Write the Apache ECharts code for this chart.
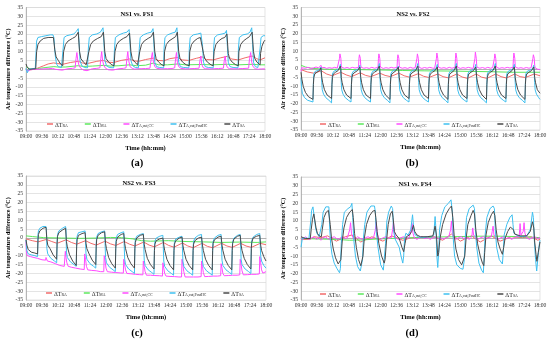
<!DOCTYPE html>
<html><head><meta charset="utf-8">
<script src="https://cdn.jsdelivr.net/npm/echarts@6/dist/echarts.min.js"></script>
<style>html,body{margin:0;padding:0;background:#fff}#c{width:550px;height:343px}</style>
</head><body><div id="c"></div>
<script>
// ---------- data (time in minutes after 09:00, value in °C) ----------
const timeStart = '09:00';
const timeTickStep = 36;
const yTicks = [-35, 35, 5];
const seriesKeys = ['RA', 'MA', 'A,out,CC', 'A,out,PostHC', 'SA'];
const seriesColors = ['#F26B6B', '#5DE85D', '#FF4AFF', '#3EC0F0', '#4A4A4A'];
const panelTitles = ['NS1 vs. FS1', 'NS2 vs. FS2', 'NS2 vs. FS3', 'NS1 vs. FS4'];
const panelLetters = ['(a)', '(b)', '(c)', '(d)'];

// ---- panel (a) NS1 vs. FS1 ----
const a_RA = [[0,-0.5],[10,-0.3],[20,0],[30,1],[40,2],[50,3],[62,3.6],[72,3.2],[83,2.8],[100,3.8],[118,4.5],[128,3.5],[140,3.3],[160,4.5],[175,5],[185,4],[198,3.8],[215,5],[234,5.8],[244,4.7],[255,4.5],[270,5.5],[288,6.3],[298,5],[311,4.8],[325,6],[343,6.7],[353,5.3],[368,5],[385,6.2],[398,7],[408,5.5],[423,5.3],[440,6.5],[455,7.3],[465,5.8],[480,5.3],[495,6.5],[511,7.5],[521,6],[529,5.3],[540,6.5]];
const a_MA = [[0,1.5],[4,0.5],[10,0],[20,0],[30,0.5],[45,1],[63,1.5],[75,1.2],[90,1.3],[118,2],[130,1.6],[150,1.8],[175,2.2],[190,1.8],[210,2],[234,2.5],[250,2],[270,2.3],[288,3.5],[300,2.5],[320,2.5],[343,3],[360,2.5],[398,2.7],[420,2.5],[455,2.8],[480,2.5],[511,2.8],[530,2.5],[540,2.5]];
const a_CC = [[0,-0.5],[5,-1],[10,-0.3],[20,0],[30,0],[40,0.2],[50,0.3],[60,0.5],[66,0],[70,-0.8],[74,-0.3],[78,-1],[82,-0.5],[86,0],[95,0.3],[105,0.5],[111,0.8],[113,6],[115,9.5],[117,5],[120,2],[124,0.5],[130,-0.5],[134,0],[138,-0.8],[142,0],[150,0.3],[160,0.5],[167,0.8],[169,6],[171,10],[173,5],[176,2],[180,0.5],[186,-0.3],[190,0.2],[196,-0.5],[200,0.2],[210,0.3],[220,0.5],[226,0.8],[228,6],[230,10],[232,5],[235,1.5],[240,0.5],[246,0],[252,0.3],[260,0.3],[270,0.4],[280,0.6],[283,6],[285.5,9.5],[288,4],[291,1.5],[296,0.5],[305,0.2],[312,0.3],[320,0.3],[330,0.4],[336,0.8],[338,6],[340,9.5],[342,4],[345,1.5],[350,0.5],[360,0.2],[370,0.3],[380,0.4],[391,0.6],[393,5],[395,7.5],[397,3],[400,1],[405,0.3],[415,0.2],[425,0.3],[435,0.4],[446,0.6],[448,5],[450,7.5],[452,3],[455,1],[460,0.3],[470,0.2],[480,0.3],[490,0.4],[503,0.6],[505,6],[507.6,9.5],[510,4],[513,1.5],[518,0.3],[525,0],[532,0.2],[540,0.2]];
const a_PostHC = [[0,0.5],[3,-2],[6,0],[12,0.3],[21,0.5],[24,16],[27,18],[35,18.5],[45,19],[55,19.5],[61,19.5],[63,18],[66,8],[69,3],[73,1.5],[80,1],[83,1],[84,12],[86,18],[92,19],[100,19.5],[108,20],[114,21.5],[118,23],[120,15],[122,5],[126,2],[132,1],[139,0.8],[141,12],[143,18],[150,19.5],[160,20],[168,21],[174,23.5],[176,15],[178,5],[182,2],[188,1],[198,0.8],[200,12],[202,18],[210,19.5],[220,20.5],[228,21],[233,22.5],[235,14],[237,5],[241,2],[247,1],[254,0.8],[256,12],[258,18],[265,19.5],[275,20.5],[283,21],[287,23],[289,14],[291,4],[295,1.5],[302,1],[311,0.8],[312,12],[314,18],[320,19.5],[330,20.5],[337,21],[341,23.5],[343,14],[345,4],[349,1.5],[356,1],[368,0.8],[369,12],[371,18],[378,19.5],[388,20],[395,20.5],[397,21.5],[399,13],[401,4],[405,1.5],[412,1],[423,0.8],[424,12],[426,18],[433,19.5],[443,20],[450,20.5],[453,22],[455,13],[457,4],[461,1.5],[468,1],[479,0.8],[480,12],[482,18],[490,19.5],[500,20],[506,21],[510,23.5],[512,14],[514,4],[518,1.5],[524,1],[528,0.8],[529,12],[531,18],[536,19],[540,19]];
const a_SA = [[0,3],[3,1],[8,0],[22,0.3],[24,10],[27,14],[32,16],[40,17.5],[50,18],[62,18],[65,11],[68,7],[73,5],[78,3],[83,2],[85,10],[89,14],[95,16],[105,17.5],[112,18.5],[118,21],[121,10],[124,6],[130,4],[136,2.5],[140,2],[142,10],[146,14],[152,16],[162,17.5],[170,18.5],[175,21],[178,10],[181,6],[187,4],[194,2.5],[199,2],[201,10],[205,14],[211,16],[220,17.5],[228,18.5],[234,20.5],[237,10],[240,6],[246,4],[252,2.5],[255,2],[257,10],[261,14],[267,16],[276,17.5],[283,18.5],[288,21],[291,10],[294,6],[300,4],[307,2.5],[312,2],[313,10],[317,14],[323,16],[332,17.5],[338,18.5],[342,21],[345,10],[348,6],[354,4],[362,2.5],[369,2],[370,10],[374,14],[380,16],[388,17.5],[394,18],[398,19],[401,9],[404,6],[410,4],[418,2.5],[423,2],[425,10],[429,14],[435,16],[443,17.5],[449,18],[454,20],[457,9],[460,6],[466,4],[474,2.5],[480,2],[481,10],[485,14],[491,16],[499,17.5],[505,18.5],[511,21],[514,10],[517,6],[522,4],[526,3],[529,2.5],[530,9],[533,13],[537,15.5],[540,16.5]];

// ---- panel (b) NS2 vs. FS2 ----
const b_RA = [[0,-0.5],[14,-1.8],[28,-2.5],[46,-1.2],[58,-3],[70,-4],[90,-2],[102,-3.5],[114,-4.5],[134,-2.3],[146,-3.8],[158,-4.5],[178,-2.5],[190,-3.8],[202,-4.5],[221,-2.5],[233,-4],[245,-4.8],[265,-2.8],[277,-4.3],[289,-5],[309,-3],[321,-4.5],[333,-5.2],[352,-3],[364,-4.7],[376,-5.5],[396,-3],[408,-4.8],[420,-5.5],[440,-3],[452,-4.5],[464,-5.3],[483,-3],[495,-4.5],[507,-5],[527,-3],[540,-4]];
const b_MA = [[0,2],[10,1],[25,0.2],[40,0],[60,-0.3],[90,-0.3],[130,-0.5],[180,-0.7],[230,-1],[280,-1.2],[330,-1.3],[380,-1.5],[430,-1.7],[480,-2],[540,-2]];
const b_CC = [[0,-1.5],[2,0.5],[6,1],[10,0.3],[16,0.8],[22,0.2],[28,0.5],[34,1],[40,0.5],[43,1],[45,2],[47,0.5],[52,0.8],[58,0.2],[64,0.6],[70,0.3],[76,0.8],[82,0.4],[86,0.8],[87,6],[88,8.5],[89,9],[90,6],[91,2],[92,0.8],[98,0.3],[104,0.7],[110,0.2],[116,0.8],[122,0.4],[126,0.2],[130,0.8],[131,6],[132,8],[133,8.5],[134,6],[135,2],[136,0.8],[142,0.3],[148,0.6],[154,0.2],[160,0.8],[166,0.3],[170,0.7],[174,0.8],[175,6],[176,8.5],[177,9],[178,6],[179,2],[180,0.8],[186,0.2],[192,0.6],[198,0.3],[204,0.8],[210,0.4],[214,0.2],[217,0.8],[218,6],[219,8],[220,8.5],[221,6],[222,2],[223,0.8],[229,0.3],[235,0.6],[241,0.2],[247,0.8],[253,0.3],[258,0.6],[261,0.8],[262,6],[263,8.5],[264,9],[265,6],[266,2],[267,0.8],[273,0.2],[279,0.7],[285,0.3],[291,0.8],[297,0.4],[302,0.2],[305,0.8],[306,6],[307,9],[308,9.5],[309,6],[310,2],[311,0.8],[317,0.3],[323,0.6],[329,0.2],[335,0.8],[341,0.3],[345,0.6],[348,0.8],[349,6],[350,9],[351,9.5],[352,6],[353,2],[354,0.8],[360,0.2],[366,0.6],[372,0.3],[378,0.8],[384,0.4],[389,0.2],[392,0.8],[393,6],[394,9.5],[395,10],[396,6],[397,2],[398,0.8],[404,0.3],[410,0.7],[416,0.2],[422,0.8],[428,0.3],[433,0.6],[436,0.8],[437,6],[438,8.5],[439,9],[440,6],[441,2],[442,0.8],[448,0.2],[454,0.6],[460,0.3],[466,0.8],[472,0.4],[476,0.2],[479,0.8],[480,6],[481,9],[482,9.5],[483,6],[484,2],[485,0.8],[491,0.3],[497,0.6],[503,0.2],[509,0.7],[515,0.3],[520,0.6],[523,0.8],[524,6],[525,8],[526,8.5],[527,6],[528,2],[529,0.5],[534,-0.2],[540,-0.5]];
const b_PostHC = [[0,-5],[1,-10],[3,-14],[8,-16.5],[15,-18],[27,-19],[28,-8],[29,-3],[32,-1.5],[38,-1],[43,-0.3],[45,1],[46,0],[47,-8],[48,-12],[51,-14.5],[56,-16.5],[63,-18],[69,-19.5],[70,-8],[71,-3],[74,-1.5],[80,-0.8],[86,0],[89,2.5],[90,1.5],[91,-8],[92,-12],[95,-14.5],[100,-16.5],[107,-18],[113,-19],[114,-8],[115,-3],[118,-1.5],[124,-0.8],[130,0],[133,2],[134,1],[135,-8],[136,-12],[139,-14.5],[144,-16.5],[151,-18],[157,-19],[158,-8],[159,-3],[162,-1.5],[168,-0.8],[174,0],[177,3],[178,2],[179,-8],[180,-12],[183,-14.5],[188,-16.5],[195,-18],[201,-19.5],[202,-8],[203,-3],[206,-1.5],[212,-0.8],[217,0],[220,1.5],[221,0.5],[222,-8],[223,-12],[226,-14.5],[231,-16.5],[238,-18],[244,-19],[245,-8],[246,-3],[249,-1.5],[255,-0.8],[261,0],[264,3],[265,2],[266,-8],[267,-12],[270,-14.5],[275,-16.5],[282,-18],[288,-19],[289,-8],[290,-3],[293,-1.5],[299,-0.8],[305,0],[308,2.5],[309,1.5],[310,-8],[311,-12],[314,-14.5],[319,-16.5],[326,-18],[332,-19.5],[333,-8],[334,-3],[337,-1.5],[343,-0.8],[348,0],[351,3],[352,2],[353,-8],[354,-12],[357,-14.5],[362,-16.5],[369,-18],[375,-19],[376,-8],[377,-3],[380,-1.5],[386,-0.8],[392,0],[395,2.5],[396,1.5],[397,-8],[398,-12],[401,-14.5],[406,-16.5],[413,-18],[419,-19.5],[420,-8],[421,-3],[424,-1.5],[430,-0.8],[436,0],[439,3],[440,2],[441,-8],[442,-12],[445,-14.5],[450,-16.5],[457,-18],[463,-19],[464,-8],[465,-3],[468,-1.5],[474,-0.8],[479,0],[482,2.5],[483,1.5],[484,-8],[485,-12],[488,-14.5],[493,-16.5],[500,-18],[506,-19.5],[507,-8],[508,-3],[511,-1.5],[517,-0.8],[523,0],[526,2],[527,1],[528,-8],[529,-12],[532,-14.5],[537,-16.5],[540,-17.5]];
const b_SA = [[0,-2],[2,-6],[5,-10],[10,-13.5],[17,-16],[27,-17.5],[28,-9],[29,-5],[31,-3],[36,-2],[42,-1],[45,0.5],[46,-0.5],[47,-5],[49,-8],[53,-12],[59,-15],[69,-17],[70,-9],[71,-5],[73,-3],[78,-2],[84,-1],[89,1.5],[90,0],[91,-5],[93,-8],[97,-12],[103,-15],[113,-17],[114,-9],[115,-5],[117,-3],[122,-2],[128,-1],[133,1],[134,0],[135,-5],[137,-8],[141,-12],[147,-15],[157,-17],[158,-9],[159,-5],[161,-3],[166,-2],[172,-1],[177,1.5],[178,0],[179,-5],[181,-8],[185,-12],[191,-15],[201,-17.5],[202,-9],[203,-5],[205,-3],[210,-2],[215,-1],[220,1],[221,0],[222,-5],[224,-8],[228,-12],[234,-15],[244,-17],[245,-9],[246,-5],[248,-3],[253,-2],[259,-1],[264,1.5],[265,0],[266,-5],[268,-8],[272,-12],[278,-15],[288,-17],[289,-9],[290,-5],[292,-3],[297,-2],[303,-1],[308,1],[309,0],[310,-5],[312,-8],[316,-12],[322,-15],[332,-17.5],[333,-9],[334,-5],[336,-3],[341,-2],[346,-1],[351,1.5],[352,0],[353,-5],[355,-8],[359,-12],[365,-15],[375,-17],[376,-9],[377,-5],[379,-3],[384,-2],[390,-1],[395,1],[396,0],[397,-5],[399,-8],[403,-12],[409,-15],[419,-17.5],[420,-9],[421,-5],[423,-3],[428,-2],[434,-1],[439,1.5],[440,0],[441,-5],[443,-8],[447,-12],[453,-15],[463,-17],[464,-9],[465,-5],[467,-3],[472,-2],[477,-1],[482,1],[483,0],[484,-5],[486,-8],[490,-12],[496,-15],[506,-17.5],[507,-9],[508,-5],[510,-3],[515,-2],[521,-1],[526,1],[527,0],[528,-5],[530,-8],[534,-12],[540,-14]];

// ---- panel (c) NS2 vs. FS3 ----
const c_RA = [[0,-0.5],[14,-1.5],[27,-2.2],[46,-0.8],[58,-2],[70,-3],[90,-1],[102,-2.5],[114,-3.5],[134,-1.5],[146,-3],[158,-4],[178,-1.8],[190,-3.3],[202,-4.2],[221,-2],[233,-3.5],[245,-4.5],[265,-2.3],[277,-4],[289,-5],[309,-2.5],[321,-4.2],[333,-5.2],[352,-2.8],[364,-4.5],[376,-5.5],[396,-3],[408,-4.7],[420,-5.5],[440,-3],[452,-4.5],[464,-5.3],[483,-3],[495,-4.5],[507,-5.3],[527,-3],[540,-3.8]];
const c_MA = [[0,1.2],[15,0.8],[40,0.2],[80,0],[120,-0.2],[160,0],[190,0.3],[215,0.2],[240,-0.5],[260,-1.5],[280,-1.8],[320,-1.5],[360,-2],[400,-2.2],[440,-2.5],[480,-2.3],[520,-2.5],[540,-2.2]];
const c_CC = [[0,-2],[1,-8],[3,-10],[10,-10.5],[18,-11],[26,-11.5],[28,-12],[36,-12.3],[44,-12.5],[45,-11],[46,-12],[48,-13],[56,-13.5],[66,-14.5],[76,-15.5],[86,-16],[88,-16.2],[88.5,-7.5],[90,-11],[92,-14],[95,-16],[102,-16.5],[112,-17],[122,-17.5],[131,-17.8],[132,-9],[134,-12],[136,-16],[139,-18],[148,-18.3],[158,-18.5],[168,-19],[175,-19],[176,-10],[178,-13],[180,-17],[183,-19],[192,-19.3],[202,-19.5],[212,-19.7],[219,-19.8],[220,-12],[222,-15],[224,-18],[227,-20],[236,-20.2],[246,-20.5],[256,-20.7],[263,-20.8],[264,-13],[266,-16],[268,-19],[271,-21],[280,-21],[290,-21.2],[300,-21.3],[307,-21.5],[308,-14],[310,-17],[312,-20],[315,-21.5],[324,-21.7],[334,-21.8],[344,-22],[350,-22],[351,-12],[353,-15],[355,-19],[358,-22],[367,-22],[377,-22],[387,-22],[394,-21.8],[395,-13],[397,-16],[399,-19.5],[402,-21.8],[411,-21.7],[421,-21.5],[431,-21.5],[438,-21.3],[439,-14.5],[441,-17],[443,-20],[446,-21.3],[455,-21.2],[465,-21],[475,-21],[481,-20.8],[482,-12],[484,-15],[486,-18.5],[489,-20.8],[498,-20.7],[508,-20.5],[518,-20.5],[525,-20.3],[526,-10.5],[528,-14],[530,-18],[533,-19.8],[540,-19]];
const c_PostHC = [[0,-1],[2,-7],[5,-9],[12,-9.5],[20,-10],[26,-10.5],[27,2],[28,4],[31,5.5],[38,6.5],[45,6.5],[46,5],[47,-6],[49,-9],[56,-11.5],[64,-13],[69,-14],[70,-2],[71,2],[74,4],[82,5.5],[89,6.5],[90,5],[91,-8],[93,-11],[100,-13.5],[108,-15],[113,-16],[114,-2],[115,1],[118,3],[126,3.5],[133,4],[134,3],[135,-9],[137,-12],[144,-14.5],[152,-16],[157,-17],[158,-3],[159,0.5],[162,2.5],[170,3.5],[177,4],[178,3],[179,-11],[181,-14],[188,-16.5],[196,-18],[201,-19],[202,-4],[203,0],[206,2],[214,3],[220,3.5],[221,2.5],[222,-12],[224,-15],[231,-17.5],[239,-19],[244,-20],[245,-5],[246,-1],[249,1],[257,2],[264,2.5],[265,1.5],[266,-12.5],[268,-15.5],[275,-18],[283,-19.5],[288,-20.5],[289,-6],[290,-2],[293,0],[301,1],[308,1.5],[309,0.5],[310,-13],[312,-16],[319,-18.5],[327,-20],[332,-21],[333,-6],[334,-2.5],[337,-0.5],[345,0.5],[351,1],[352,0],[353,-13],[355,-16],[362,-18.5],[370,-20],[375,-21],[376,-6],[377,-2],[380,0],[388,1.5],[395,2],[396,1],[397,-13],[399,-16],[406,-18.5],[414,-20],[419,-21],[420,-6],[421,-2],[424,0],[432,1.5],[439,2],[440,1],[441,-12.5],[443,-15.5],[450,-18],[458,-19.5],[463,-20.5],[464,-6],[465,-2],[468,0],[476,1.5],[482,2],[483,1],[484,-12],[486,-15],[493,-17.5],[501,-19],[506,-20],[507,-5],[508,-1.5],[511,0.5],[519,2],[526,2.5],[527,1.5],[528,-10],[530,-13],[535,-15.5],[540,-17]];
const c_SA = [[0,-1],[2,-4],[5,-6.5],[12,-8],[20,-8.5],[26,-9],[27,-1],[28,2],[31,4],[38,5.5],[45,6],[46,5],[47,-1],[49,-4],[54,-6],[61,-9.5],[69,-12],[70,-3],[71,1],[74,3],[82,4.5],[89,5.5],[90,4.5],[91,-2],[93,-5],[98,-9.5],[105,-13],[113,-15.5],[114,-5],[115,-1],[118,1.5],[126,2.5],[133,3],[134,2],[135,-3],[137,-6],[142,-9],[149,-12.5],[157,-15],[158,-5],[159,-1],[162,1.5],[170,3],[177,3.5],[178,2.5],[179,-3],[181,-6],[186,-11],[193,-14.5],[201,-17],[202,-6],[203,-2],[206,0.5],[214,2],[220,2.5],[221,1.5],[222,-3],[224,-6],[229,-11],[236,-14.5],[244,-17],[245,-6],[246,-2.5],[249,0],[257,1.5],[264,2],[265,1],[266,-3.5],[268,-6.5],[273,-11.5],[280,-15],[288,-17.5],[289,-7],[290,-3.5],[293,-1.5],[301,-0.5],[308,0],[309,-1],[310,-4],[312,-7],[317,-12],[324,-15.5],[332,-18],[333,-7],[334,-3.5],[337,-1.5],[345,0],[351,0.5],[352,-0.5],[353,-4],[355,-7],[360,-12],[367,-15.5],[375,-18],[376,-7],[377,-3.5],[380,-1.5],[388,0],[395,0.5],[396,-0.5],[397,-4],[399,-7],[404,-12],[411,-15.5],[419,-18],[420,-7],[421,-3],[424,-1],[432,0.5],[439,1],[440,0],[441,-4],[443,-7],[448,-12],[455,-15.5],[463,-18],[464,-7],[465,-3],[468,-0.5],[476,1],[482,1.5],[483,0.5],[484,-4],[486,-7],[491,-11.5],[498,-15],[506,-17.5],[507,-6],[508,-2.5],[511,0],[519,1],[526,1.5],[527,0.5],[528,-4],[530,-7],[535,-10.5],[540,-13]];

// ---- panel (d) NS1 vs. FS4 ----
const d_RA = [[0,-0.5],[20,-0.5],[30,1],[45,0.5],[60,1.5],[80,-1.5],[100,1],[115,2],[135,-2],[160,1],[185,-1.5],[205,1.5],[230,-1],[250,0.5],[280,0.5],[300,1],[320,-1],[340,2.5],[360,-1.5],[385,1.5],[405,-2],[430,1.5],[450,-1.5],[475,1],[500,0.5],[520,1],[535,-1],[540,-0.5]];
const d_MA = [[0,0],[40,-0.3],[80,-0.5],[110,-1],[140,-0.8],[170,-0.3],[200,0],[230,0.3],[260,0.5],[300,0.8],[340,1],[400,1.3],[450,1.3],[500,1],[540,0.5]];
const d_CC = [[0,0.5],[5,-0.5],[10,1],[15,0],[20,-0.5],[25,0.5],[30,1],[35,-0.5],[40,0.5],[45,-1],[50,0.5],[55,1],[60,0],[65,-0.5],[70,0.5],[75,1],[80,0],[85,-0.5],[90,0.5],[95,1],[100,0],[105,0.5],[109,1],[110,5],[112,9],[114,3],[117,0.5],[122,-0.5],[128,1],[134,0],[140,-0.5],[146,0.5],[152,1],[158,0],[164,0.5],[167,1],[168,5],[170,9.5],[172,3],[175,0.5],[180,-0.5],[186,0.5],[192,1],[198,0],[204,0.5],[206,1],[207,5],[209,9.5],[211,3],[214,0.5],[220,-0.5],[226,0.5],[232,1],[238,0],[244,0.5],[248,1],[249,5],[251,8.5],[253,3],[256,0.5],[262,-0.5],[268,0.5],[274,1],[280,0],[286,0.5],[292,-0.5],[298,0.5],[304,1],[310,0],[316,0.5],[322,-0.5],[328,0.5],[334,1],[337,1],[338,5],[340,10],[342,3],[345,0.5],[350,-0.5],[356,0.5],[362,1],[368,0],[374,0.5],[380,-0.5],[386,1],[388,6],[390,2],[394,0.5],[400,-0.5],[406,0.5],[412,1],[418,0],[424,0.5],[430,1],[432,4],[434,7],[436,2],[440,0.5],[446,-0.5],[452,0.5],[458,1],[464,0],[470,0.5],[476,-0.5],[482,0.5],[488,1],[493,1],[494,5],[495,8.5],[497,2],[500,1],[502,4],[504,9],[506,3],[510,0.5],[516,-0.5],[522,0.5],[528,1],[534,0],[540,0.5]];
const d_PostHC = [[0,-5],[3,0],[10,0.3],[18,0],[21,0.5],[22,10],[24,16],[27,18],[29,18.5],[31,17],[33,6],[36,3],[41,1],[45,1],[47,8],[50,15],[56,18],[60,18.5],[63,18],[65,5],[67,-3],[70,-9],[75,-14],[81,-17],[87,-19.5],[89,-17],[91,-3],[94,8],[98,15],[106,17],[112,18],[115,20],[117,12],[119,0],[123,-10],[128,-16],[134,-18.5],[137,-19],[139,-12],[141,0],[144,8],[149,15],[158,18.5],[166,18.5],[168,15],[170,4],[174,-5],[180,-15],[186,-18],[189,-17],[191,-3],[194,10],[198,15],[204,18.5],[207,17],[209,5],[212,0],[216,-1],[222,-5],[226,-10],[230,-14],[232,-10],[234,0],[237,3],[242,2],[248,5],[252,13.5],[255,5],[258,2],[265,1],[275,0.5],[285,1],[295,1],[300,2],[303,12.5],[305,5],[307,-10],[309,-16.5],[311,-8],[313,5],[318,13],[325,18],[333,20],[339,22],[342,15],[344,0],[347,-10],[352,-15],[360,-17],[366,-17.5],[369,-12],[371,0],[374,12],[380,17],[389,19],[392,17],[394,5],[397,-5],[402,-14],[408,-18],[412,-19.5],[414,-10],[416,2],[420,12],[427,17],[434,18.5],[437,17],[439,5],[442,-5],[448,-12],[455,-14.5],[457,-8],[459,2],[465,8],[472,12],[477,13.5],[479,8],[481,3],[490,1.5],[500,1],[510,1.5],[518,5],[523,15],[525,12],[527,0],[530,-12],[532.5,-18.5],[535,-12],[538,-4],[540,-1]];
const d_SA = [[0,1],[3,0.5],[10,0],[21,0],[23,5],[26,11],[29,14],[31,13],[34,6],[37,3],[41,1.5],[46,1],[48,5],[52,12],[57,15],[62,16],[64,15],[66,8],[69,0],[73,-6],[78,-11],[84,-14.5],[88,-15.5],[90,-12],[93,-2],[97,6],[103,12],[110,15],[116,16.5],[118,12],[121,3],[125,-5],[130,-12],[135,-15.5],[138,-16.5],[140,-10],[143,0],[148,8],[155,13],[162,15.5],[167,16],[169,12],[172,4],[176,-3],[182,-10],[188,-14],[190,-12],[193,-2],[197,8],[202,14],[206,15.5],[208,12],[211,4],[215,2],[222,0],[228,-5],[232,-7.5],[235,-3],[238,1],[245,2],[250,4],[254,7.5],[257,4],[262,2],[270,1],[285,1],[298,1.5],[303,7],[306,2],[309,-10],[311,-8],[314,0],[320,8],[328,14],[335,17],[340,18.5],[343,12],[346,2],[350,-6],[356,-12],[363,-15],[367,-15.5],[370,-10],[373,0],[377,8],[384,13],[389,16],[392,14],[395,5],[399,-3],[405,-10],[410,-14],[413,-15.5],[415,-8],[418,2],[423,9],[430,13.5],[435,15.5],[438,13],[441,5],[445,-2],[450,-6],[455,-9],[458,-5],[461,0],[467,4],[473,6.5],[477,7.5],[480,5],[483,2.5],[495,1.5],[510,1.5],[518,4],[523,9.5],[526,6],[528,-2],[531,-9],[533,-13],[536,-8],[540,-2]];

const panelData = [
  [a_RA, a_MA, a_CC, a_PostHC, a_SA],
  [b_RA, b_MA, b_CC, b_PostHC, b_SA],
  [c_RA, c_MA, c_CC, c_PostHC, c_SA],
  [d_RA, d_MA, d_CC, d_PostHC, d_SA]
];

// ---------- layout ----------
const FONT = '"Liberation Serif", "Times New Roman", serif';
const grids = [
  {left: 26, top: 7.5, width: 239, height: 123.5},
  {left: 301, top: 7.5, width: 239, height: 122.5},
  {left: 26, top: 176, width: 240, height: 124},
  {left: 301, top: 177, width: 239, height: 123}
];
const legendPos = [
  {left: 47, top: 122}, {left: 320, top: 122},
  {left: 46, top: 291}, {left: 320, top: 292}
];
const titlePos = [[137, 14.7], [413, 14.7], [139, 183.5], [415, 184.3]];
const letterPos = [[137, 163], [412, 163], [137, 333], [412, 333]];

function fmtTime(v) {
  const h0 = parseInt(timeStart.slice(0, 2), 10);
  const t = Math.round(v);
  const h = h0 + Math.floor(t / 60), m = t % 60;
  return String(h).padStart(2, '0') + ':' + String(m).padStart(2, '0');
}

const xAxes = [], yAxes = [], series = [], legends = [], graphics = [];
grids.forEach((g, i) => {
  xAxes.push({
    type: 'value', gridIndex: i, min: 0, max: 540, interval: timeTickStep,
    name: 'Time (hh:mm)', nameLocation: 'middle', nameGap: 13.5,
    nameTextStyle: {fontFamily: FONT, fontSize: 6.5, fontWeight: 'bold', color: '#000'},
    axisLine: {show: true, lineStyle: {color: '#A6A6A6', width: 0.8}},
    axisTick: {show: false},
    splitLine: {show: false},
    axisLabel: {formatter: fmtTime, fontFamily: FONT, fontSize: 5.6, color: '#333', margin: 3, hideOverlap: false, showMinLabel: true, showMaxLabel: true}
  });
  yAxes.push({
    type: 'value', gridIndex: i, min: yTicks[0], max: yTicks[1], interval: yTicks[2],
    name: 'Air temperature difference (°C)', nameLocation: 'middle', nameGap: 15,
    nameTextStyle: {fontFamily: FONT, fontSize: 6, fontWeight: 'bold', color: '#000'},
    axisLine: {show: true, lineStyle: {color: '#A6A6A6', width: 0.8}},
    axisTick: {show: false},
    splitLine: {show: true, lineStyle: {color: '#D9D9D9', width: 0.7}},
    axisLabel: {fontFamily: FONT, fontSize: 5.6, color: '#333', margin: 3}
  });
  panelData[i].forEach((arr, k) => {
    series.push({
      type: 'line', name: seriesKeys[k], xAxisIndex: i, yAxisIndex: i,
      data: arr, showSymbol: false, symbol: 'none', smooth: false,
      lineStyle: {color: seriesColors[k], width: 1},
      itemStyle: {color: seriesColors[k]},
      z: 2 + k, silent: true
    });
  });
  legends.push({
    data: seriesKeys, left: legendPos[i].left, top: legendPos[i].top,
    orient: 'horizontal', itemGap: 17, itemWidth: 6, itemHeight: 1.5, icon: 'rect',
    padding: 0, selectedMode: false,
    formatter: n => '{d|ΔT}{s|' + n + '}',
    textStyle: {
      fontFamily: FONT, color: '#222', padding: [0, 0, 0, -3],
      rich: {
        d: {fontFamily: FONT, fontSize: 6, color: '#222', verticalAlign: 'bottom', lineHeight: 8},
        s: {fontFamily: FONT, fontSize: 3.8, color: '#222', verticalAlign: 'bottom', lineHeight: 6}
      }
    }
  });
  graphics.push({
    type: 'text', x: titlePos[i][0], y: titlePos[i][1],
    style: {text: panelTitles[i], font: 'bold 6.5px ' + FONT, fill: '#000', align: 'center', verticalAlign: 'middle'}
  });
  graphics.push({
    type: 'text', x: letterPos[i][0], y: letterPos[i][1],
    style: {text: panelLetters[i], font: 'bold 10.5px ' + FONT, fill: '#000', align: 'center', verticalAlign: 'middle'}
  });
});

const chart = echarts.init(document.getElementById('c'), null, {renderer: 'canvas'});
chart.setOption({
  animation: false,
  backgroundColor: '#fff',
  grid: grids.map(g => Object.assign({show: true, borderColor: '#D9D9D9', borderWidth: 0.7, backgroundColor: 'transparent'}, g)),
  xAxis: xAxes,
  yAxis: yAxes,
  legend: legends,
  series: series,
  graphic: graphics
});
</script>
</body></html>
